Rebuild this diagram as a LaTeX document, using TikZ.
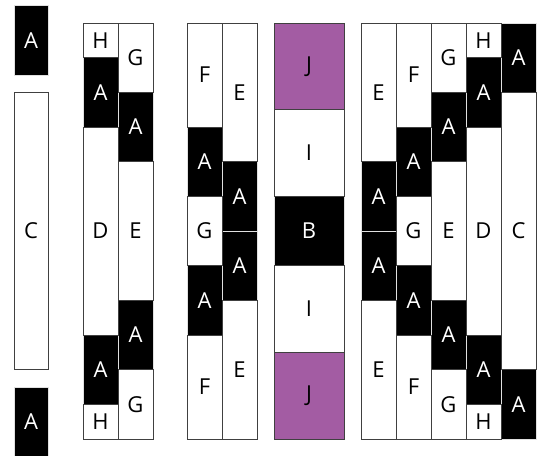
\documentclass[tikz,border=0pt]{standalone}
\usepackage{fontspec}
\setmainfont{Open Sans}
\definecolor{jviolet}{RGB}{163,92,163}
\begin{document}
\begin{tikzpicture}[x=1pt, y=-34.67pt, font=\fontsize{22}{22}\selectfont,
	span/.style={minimum height=#1*34.67pt},
	box/.style={rectangle, inner sep=0pt, minimum width=35pt, line width=0.8pt},
	blk/.style={box, fill=black, draw=black!12, text=white},
	wht/.style={box, fill=white, draw=black!75},
	vio/.style={box, fill=jviolet, draw=black!75}]
	\useasboundingbox (0,-0.6634) rectangle (540,12.4603);
	\path
	(31,0.5) node[blk, span=2, minimum width=34pt] (a1) {A}
	(31,11.5) node[blk, span=2, minimum width=34pt] (a2) {A}
	(100.5,2) node[blk, span=2] (a3) {A}
	(100.5,10) node[blk, span=2] (a4) {A}
	(135.5,3) node[blk, span=2] (a5) {A}
	(135.5,9) node[blk, span=2] (a6) {A}
	(204.5,4) node[blk, span=2] (a7) {A}
	(204.5,8) node[blk, span=2] (a8) {A}
	(239.5,5) node[blk, span=2] (a9) {A}
	(239.5,7) node[blk, span=2] (a10) {A}
	(309,6) node[blk, span=2, minimum width=70pt] (b1) {B}
	(378.5,5) node[blk, span=2] (a11) {A}
	(378.5,7) node[blk, span=2] (a12) {A}
	(413.5,4) node[blk, span=2] (a13) {A}
	(413.5,8) node[blk, span=2] (a14) {A}
	(448.5,3) node[blk, span=2] (a15) {A}
	(448.5,9) node[blk, span=2] (a16) {A}
	(483.5,2) node[blk, span=2] (a17) {A}
	(483.5,10) node[blk, span=2] (a18) {A}
	(518.5,1) node[blk, span=2] (a19) {A}
	(518.5,11) node[blk, span=2] (a20) {A};
	\path
	(31,6) node[wht, span=8, minimum width=34pt] (c1) {C}
	(100.5,0.5) node[wht, span=1] (h1) {H}
	(100.5,6) node[wht, span=6] (d1) {D}
	(100.5,11.5) node[wht, span=1] (h2) {H}
	(135.5,1) node[wht, span=2] (g1) {G}
	(135.5,6) node[wht, span=4] (e1) {E}
	(135.5,11) node[wht, span=2] (g2) {G}
	(204.5,1.5) node[wht, span=3] (f1) {F}
	(204.5,6) node[wht, span=2] (g3) {G}
	(204.5,10.5) node[wht, span=3] (f2) {F}
	(239.5,2) node[wht, span=4] (e2) {E}
	(239.5,10) node[wht, span=4] (e3) {E}
	(309,1.25) node[vio, span=2.5, minimum width=70pt] (j1) {J}
	(309,3.75) node[wht, span=2.5, minimum width=70pt] (i1) {I}
	(309,8.25) node[wht, span=2.5, minimum width=70pt] (i2) {I}
	(309,10.75) node[vio, span=2.5, minimum width=70pt] (j2) {J}
	(378.5,2) node[wht, span=4] (e4) {E}
	(378.5,10) node[wht, span=4] (e5) {E}
	(413.5,1.5) node[wht, span=3] (f3) {F}
	(413.5,6) node[wht, span=2] (g4) {G}
	(413.5,10.5) node[wht, span=3] (f4) {F}
	(448.5,1) node[wht, span=2] (g5) {G}
	(448.5,6) node[wht, span=4] (e6) {E}
	(448.5,11) node[wht, span=2] (g6) {G}
	(483.5,0.5) node[wht, span=1] (h3) {H}
	(483.5,6) node[wht, span=6] (d2) {D}
	(483.5,11.5) node[wht, span=1] (h4) {H}
	(518.5,6) node[wht, span=8] (c2) {C};
\end{tikzpicture}
\end{document}
